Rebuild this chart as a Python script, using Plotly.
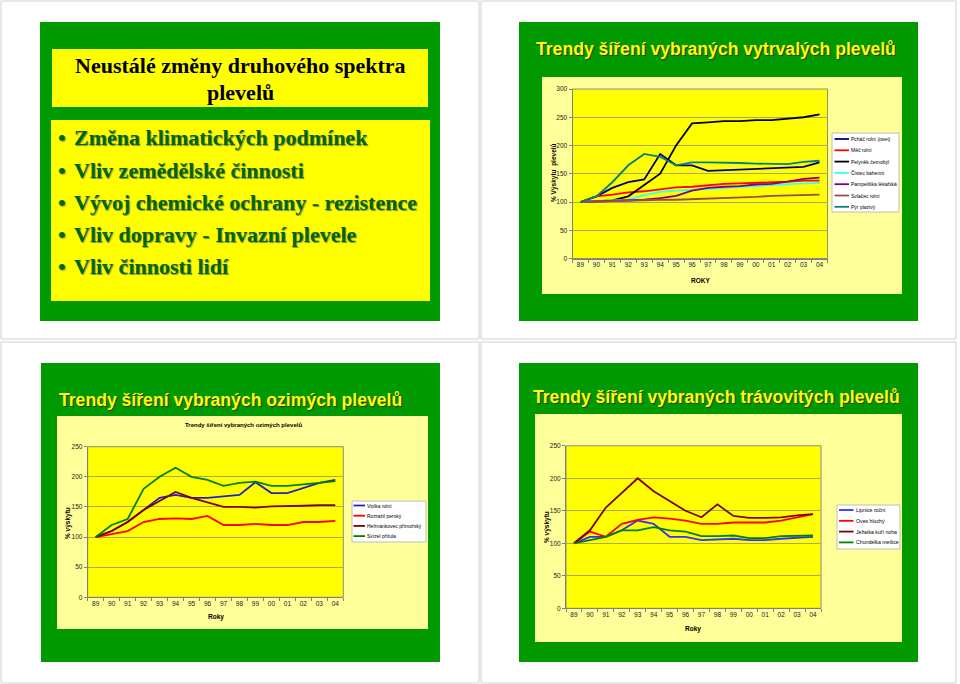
import plotly.graph_objects as go

W, H = 960, 684

years = ["89", "90", "91", "92", "93", "94", "95", "96", "97", "98", "99", "00", "01", "02", "03", "04"]

# --- vytrvalé plevele ---
vytr_names = ["Pcháč rolní (oset)", "Měč rolní", "Pelyněk černobýl", "Čistec bahenní",
              "Pampeliška lékařská", "Svlačec rolní", "Pýr plazivý"]
pchac = [100, 110, 125, 135, 140, 185, 165, 165, 155, 156, 157, 159, 159, 160, 162, 170]
mec = [100, 110, 113, 117, 119, 122, 126, 127, 130, 132, 133, 134, 134, 136, 138, 138]
pelynek = [100, 101, 103, 110, 130, 150, 200, 239, 241, 243, 243, 245, 245, 247, 250, 255]
cistec = [100, 101, 102, 104, 112, 118, 120, 121, 123, 125, 126, 128, 130, 132, 133, 134]
pampeliska = [100, 101, 101, 103, 104, 107, 111, 120, 125, 127, 128, 131, 132, 136, 141, 143]
svlacec = [100, 101, 102, 103, 104, 104, 104, 105, 106, 106, 107, 109, 111, 112, 112, 113]
pyr = [100, 110, 135, 165, 185, 180, 165, 170, 170, 170, 169, 168, 168, 167, 171, 173]
vytr_values = [pchac, mec, pelynek, cistec, pampeliska, svlacec, pyr]
vytr_colors = ["#000080", "#FF0000", "#000000", "#33FFFF", "#800080", "#994C4C", "#008080"]

# --- ozimé plevele ---
ozim_names = ["Violka rolní", "Rozrazil perský", "Heřmánkovec přímořský", "Svízel přítula"]
violka = [100, 110, 125, 145, 165, 170, 165, 165, 168, 170, 191, 173, 173, 181, 190, 195]
rozrazil = [100, 105, 110, 125, 130, 131, 130, 135, 120, 120, 122, 120, 120, 125, 125, 127]
hermankovec = [100, 110, 125, 145, 160, 175, 165, 158, 150, 150, 149, 151, 151, 152, 153, 153]
svizel = [100, 120, 130, 180, 200, 215, 200, 195, 185, 190, 192, 185, 185, 187, 190, 193]
ozim_values = [violka, rozrazil, hermankovec, svizel]
ozim_colors = ["#2222CC", "#FF0000", "#800000", "#008000"]

# --- trávovité plevele ---
trav_names = ["Lipnice roční", "Oves hluchý", "Ježatka kuří noha", "Chundelka metlice"]
lipnice = [100, 110, 110, 120, 135, 130, 110, 110, 105, 106, 107, 105, 105, 107, 108, 110]
oves = [100, 118, 110, 130, 136, 140, 138, 135, 130, 130, 132, 132, 132, 135, 140, 145]
jezatka = [100, 120, 155, 178, 200, 180, 165, 150, 140, 160, 142, 139, 139, 140, 143, 145]
chundelka = [100, 105, 110, 120, 120, 125, 120, 118, 111, 111, 112, 108, 108, 111, 112, 112]
trav_values = [lipnice, oves, jezatka, chundelka]
trav_colors = ["#3333FF", "#FF0000", "#800000", "#008000"]

slide1_title = ["Neustálé změny druhového spektra", "plevelů"]
slide1_bullets = ["Změna klimatických podmínek", "Vliv zemědělské činnosti",
                  "Vývoj chemické ochrany - rezistence", "Vliv dopravy - Invazní plevele",
                  "Vliv činnosti lidí"]


def px(x):
    return x / W


def py(y):
    return 1 - y / H


GREEN = "#009900"
LIGHT = "#FFFF99"
YEL = "#FFFF00"
FONT = "Liberation Sans"
SERIF = "Liberation Serif"

fig = go.Figure()
shapes = []
ann = []


def rect(x0, y0, x1, y1, fill, line=None, lw=0):
    shapes.append(dict(type="rect", xref="paper", yref="paper", layer="below",
                       x0=px(x0), x1=px(x1), y0=py(y1), y1=py(y0),
                       fillcolor=fill, line=dict(color=line or fill, width=lw)))


def text(x, y, s, size, color="#000000", family=FONT, bold=False, xanchor="center",
         angle=0, shadow=None):
    f = dict(family=family, size=size, color=color)
    if bold:
        f["weight"] = "bold"
    if shadow:
        f["shadow"] = shadow
    ann.append(dict(xref="paper", yref="paper", x=px(x), y=py(y), text=s, showarrow=False,
                    xanchor=xanchor, yanchor="middle", font=f, textangle=angle))


# quadrant frames
for (x0, y0, x1, y1) in [(1, 1, 479, 339), (481, 1, 956, 339), (1, 342, 479, 683), (481, 342, 956, 683)]:
    shapes.append(dict(type="rect", xref="paper", yref="paper", layer="below",
                       x0=px(x0), x1=px(x1), y0=py(y1), y1=py(y0),
                       fillcolor="#FFFFFF", line=dict(color="#D0D0D0", width=1)))

# ---------- slide 1 ----------
rect(40, 22, 440, 321, GREEN)
rect(52, 49, 428, 107, YEL)
rect(51, 120, 430, 301, YEL)
text(240, 66, slide1_title[0], 22, "#000000", SERIF, True)
text(240, 93, slide1_title[1], 22, "#000000", SERIF, True)
for i, b in enumerate(slide1_bullets):
    yy = 138 + i * 32.2
    text(56, yy, "•", 22, "#006600", SERIF, True, "left", shadow="1px 1px 1px #8a8a40")
    text(72, yy, b, 22, "#006600", SERIF, True, "left", shadow="1px 1px 1px #8a8a40")

# ---------- slide 2 ----------
rect(519, 22, 918, 321, GREEN)
rect(542, 77, 902, 294, LIGHT)
text(716, 49, "Trendy šíření vybraných vytrvalých plevelů", 17.6, YEL, FONT, True,
     shadow="1px 1px 1px #333333")

# ---------- slide 3 ----------
rect(41, 363, 440, 662, GREEN)
rect(57, 416, 428, 629, LIGHT)
text(230, 400, "Trendy šíření vybraných ozimých plevelů", 17.6, YEL, FONT, True,
     shadow="1px 1px 1px #333333")
text(243, 425, "Trendy šíření vybraných ozimých plevelů", 6, "#000000", FONT, True)

# ---------- slide 4 ----------
rect(519, 363, 918, 662, GREEN)
rect(535, 414, 902, 642, LIGHT)
text(716, 397, "Trendy šíření vybraných trávovitých plevelů", 17.6, YEL, FONT, True,
     shadow="1px 1px 1px #333333")

# ---------- charts ----------
charts = [
    ("x", "y", vytr_names, vytr_values, vytr_colors, 300),
    ("x2", "y2", ozim_names, ozim_values, ozim_colors, 250),
    ("x3", "y3", trav_names, trav_values, trav_colors, 250),
]
for xa, ya, names, vals, cols, ymax in charts:
    for n, v, c in zip(names, vals, cols):
        fig.add_trace(go.Scatter(x=years, y=v, name=n, mode="lines", xaxis=xa, yaxis=ya,
                                 line=dict(color=c, width=1.8), showlegend=False,
                                 hoverinfo="skip"))
    shapes.append(dict(type="rect", xref=f"{xa} domain", yref=f"{ya} domain", layer="below",
                       x0=0, x1=1, y0=0, y1=1, fillcolor=YEL,
                       line=dict(color="#8C8C8C", width=1)))

domains = {
    "1": ([px(572.5), px(827.5)], [py(258.5), py(89)], 300),
    "2": ([px(87.7), px(343.3)], [py(597.3), py(446.7)], 250),
    "3": ([px(566), px(821)], [py(608.3), py(445.8)], 250),
}
tickfont = dict(family=FONT, size=6.5, color="#222222")
layout_axes = {}
for k, (dx, dy, ymax) in domains.items():
    sfx = "" if k == "1" else k
    layout_axes["xaxis" + sfx] = dict(domain=dx, anchor="y" + sfx, type="category",
                                       range=[-0.5, 15.5], showgrid=False, zeroline=False,
                                       showline=True, linecolor="#808080", linewidth=1,
                                       ticks="outside", tickson="boundaries", ticklen=3,
                                       tickcolor="#808080", tickfont=tickfont, tickangle=0,
                                       fixedrange=True)
    layout_axes["yaxis" + sfx] = dict(domain=dy, anchor="x" + sfx, range=[0, ymax], dtick=50,
                                       showgrid=True, gridcolor="#A8A860", gridwidth=0.8,
                                       zeroline=False, showline=True, linecolor="#808080",
                                       linewidth=1, ticks="outside", ticklen=3,
                                       tickcolor="#808080", tickfont=tickfont, fixedrange=True)

# axis titles
text(554, 173, "% Výskytu  plevelů", 6.5, "#000000", FONT, True, angle=-90)
text(700, 280, "ROKY", 6.5, "#000000", FONT, True)
text(68, 523, "% výskytu", 6.5, "#000000", FONT, True, angle=-90)
text(216, 617, "Roky", 6.5, "#000000", FONT, True)
text(547, 527, "% výskytu", 6.5, "#000000", FONT, True, angle=-90)
text(693, 629, "Roky", 6.5, "#000000", FONT, True)


# legends (drawn as boxes)
def legend(names, cols, box, rows, lx0, lx1, tx, size):
    x0, y0, x1, y1 = box
    shapes.append(dict(type="rect", xref="paper", yref="paper", layer="above",
                       x0=px(x0), x1=px(x1), y0=py(y1), y1=py(y0),
                       fillcolor="#FFFFFF", line=dict(color="#BDBDBD", width=1)))
    for n, c, yy in zip(names, cols, rows):
        shapes.append(dict(type="line", xref="paper", yref="paper", layer="above",
                           x0=px(lx0), x1=px(lx1), y0=py(yy), y1=py(yy),
                           line=dict(color=c, width=1.8)))
        text(tx, yy, n, size, "#000000", FONT, False, "left")


legend(vytr_names, vytr_colors, (832, 133, 899, 212),
       [139 + i * 11.3 for i in range(7)], 834.5, 849, 849, 5.0)
legend(ozim_names, ozim_colors, (352, 501, 426, 542),
       [505.5 + i * 10.2 for i in range(4)], 353.5, 365, 365, 5.0)
legend(trav_names, trav_colors, (837, 505, 900, 549),
       [510 + i * 10.8 for i in range(4)], 839, 853.5, 853.5, 5.2)

fig.update_layout(width=W, height=H, autosize=False, margin=dict(l=0, r=0, t=0, b=0),
                  paper_bgcolor="#FFFFFF", plot_bgcolor="rgba(0,0,0,0)",
                  template="none", showlegend=False, shapes=shapes, annotations=ann,
                  **layout_axes)

fig.write_html("out.html", config={"displayModeBar": False})
